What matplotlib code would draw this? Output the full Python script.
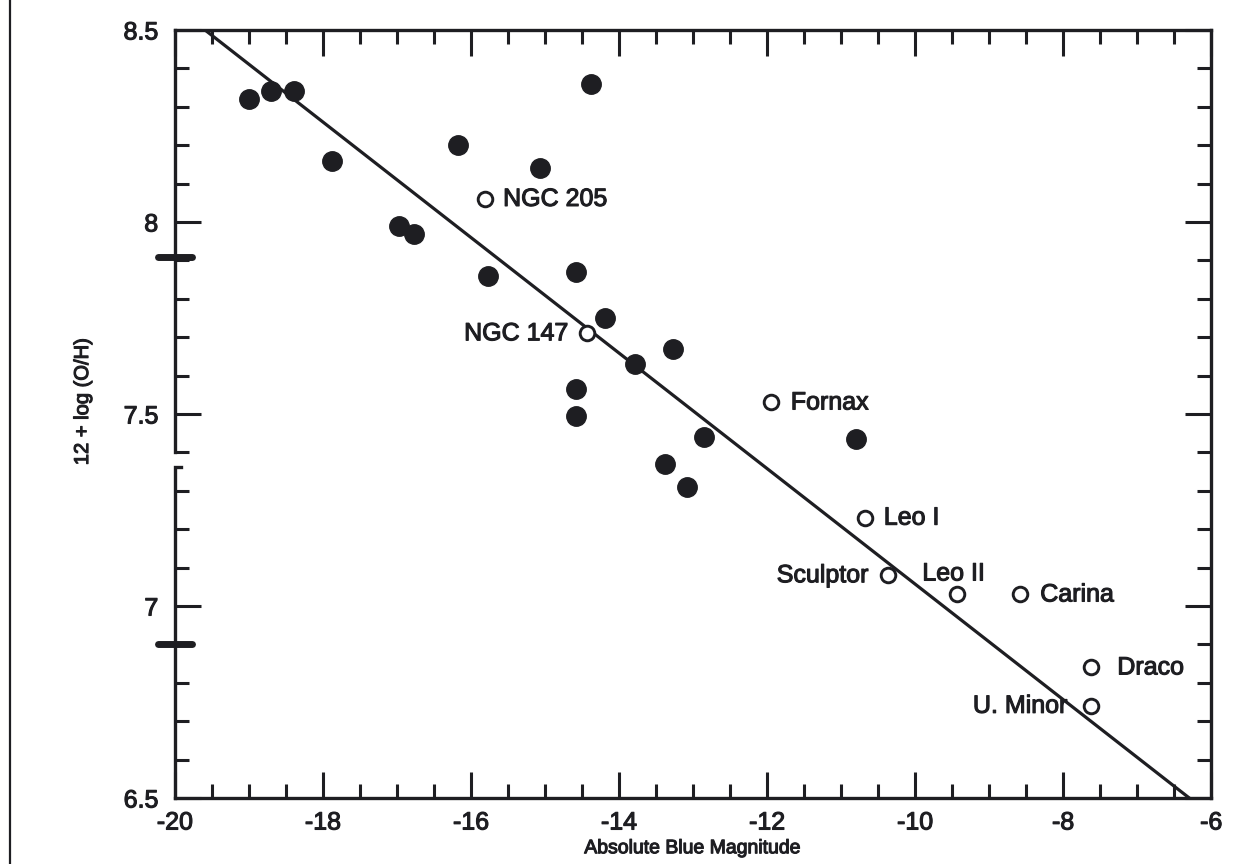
import numpy as np
import matplotlib
matplotlib.use("Agg")
import matplotlib.pyplot as plt
import matplotlib.patheffects as pe
from matplotlib.lines import Line2D

plt.rcParams['font.family'] = ['Liberation Sans', 'DejaVu Sans']
plt.rcParams['axes.unicode_minus'] = False
ink = '#1e1e22'
heavy = [pe.withStroke(linewidth=0.8, foreground=ink)]

# gas-rich galaxies (filled)
mb_filled = [-19.0, -18.70, -18.39, -17.88, -16.18, -14.38, -15.07, -16.97, -16.77, -15.77,
             -14.58, -14.19, -13.27, -13.78, -14.58, -14.58, -12.85, -10.80, -13.38, -13.08]
oh_filled = [8.32, 8.34, 8.34, 8.16, 8.20, 8.36, 8.14, 7.99, 7.97, 7.86,
             7.87, 7.75, 7.67, 7.63, 7.565, 7.495, 7.44, 7.435, 7.37, 7.31]

# dwarf spheroidals / ellipticals (open)
names = ['NGC 205', 'NGC 147', 'Fornax', 'Leo I', 'Sculptor', 'Leo II', 'Carina', 'Draco', 'U. Minor']
mb_open = [-15.81, -14.43, -11.95, -10.68, -10.36, -9.43, -8.58, -7.62, -7.62]
oh_open = [8.06, 7.71, 7.53, 7.23, 7.08, 7.03, 7.03, 6.84, 6.74]
# label offsets in pixels and alignment
lab_dx = [18, -19, 20, 19, -20, -35, 20, 26, -24]
lab_dy = [0, 0, 0, 0, 0, 21, 0, 0, 0]
lab_ha = ['left', 'right', 'left', 'left', 'right', 'left', 'left', 'left', 'right']

# fitted relation
fit_a, fit_b = 5.553, -0.1504
break_marks = [7.91, 6.90]

fig = plt.figure(figsize=(12.47, 8.64), dpi=100)
ax = fig.add_axes([0.1403, 0.0764, 0.8310, 0.8889])

x0 = (8.5 - fit_a) / fit_b
x1 = (6.5 - fit_a) / fit_b
xs = np.array([x0, x1])
ax.plot(xs, fit_a + fit_b * xs, color=ink, lw=2.3, zorder=2)

ax.plot(mb_filled, oh_filled, 'o', ms=14, color=ink, mec=ink, zorder=3)
ax.plot(mb_open, oh_open, 'o', ms=10.5, mfc='white', mec=ink, mew=2.1, zorder=3)

for n, x, y, dx, dy, ha in zip(names, mb_open, oh_open, lab_dx, lab_dy, lab_ha):
    ax.annotate(n, (x, y), xytext=(dx, dy), textcoords='offset pixels',
                ha=ha, va='center', fontsize=18, color=ink, path_effects=heavy)

ax.set_xlim(-20, -6)
ax.set_ylim(6.5, 8.5)
ax.set_xticks(np.arange(-20, -5, 2))
ax.set_xticks(np.arange(-20, -5.9, 0.5), minor=True)
ax.set_yticks([6.5, 7, 7.5, 8, 8.5])
ax.set_yticklabels(['6.5', '7', '7.5', '8', '8.5'])
ax.set_yticks(np.arange(6.5, 8.51, 0.1), minor=True)

ax.tick_params(which='both', direction='in', top=True, right=True, width=2.2,
               color=ink, labelcolor=ink, labelsize=18)
ax.tick_params(which='major', length=19)
ax.tick_params(which='minor', length=10)
ax.tick_params(axis='y', pad=12)
ax.tick_params(axis='x', pad=9)
for lab in ax.get_xticklabels() + ax.get_yticklabels():
    lab.set_path_effects(heavy)

for s in ['top', 'right', 'bottom']:
    ax.spines[s].set_linewidth(2.4)
    ax.spines[s].set_color(ink)
ax.spines['left'].set_visible(False)

# broken left axis
yt = ax.get_yaxis_transform()
ax.plot([0, 0], [8.5, 7.40], color=ink, lw=2.4, transform=yt, clip_on=False, zorder=4)
ax.plot([0.006, 0, 0], [7.362, 7.362, 6.5], color=ink, lw=2.4, transform=yt,
        clip_on=False, zorder=4, solid_joinstyle='miter')
for y in break_marks:
    ax.plot([-0.016, 0.016], [y, y], color=ink, lw=5, transform=yt,
            clip_on=False, solid_capstyle='round', zorder=5)

ax.set_xlabel('Absolute Blue Magnitude', fontsize=14, color=ink, path_effects=heavy)
ax.set_ylabel('12 + log (O/H)', fontsize=14.5, color=ink, path_effects=heavy)
ax.xaxis.set_label_coords(0.5, -0.055)
ax.yaxis.set_label_coords(-0.080, 0.516)

# scan border on the left edge
fig.add_artist(Line2D([0.0078, 0.0078], [0, 1], color=ink, lw=1.6))

fig.savefig('out.png', dpi=100, facecolor='white')
